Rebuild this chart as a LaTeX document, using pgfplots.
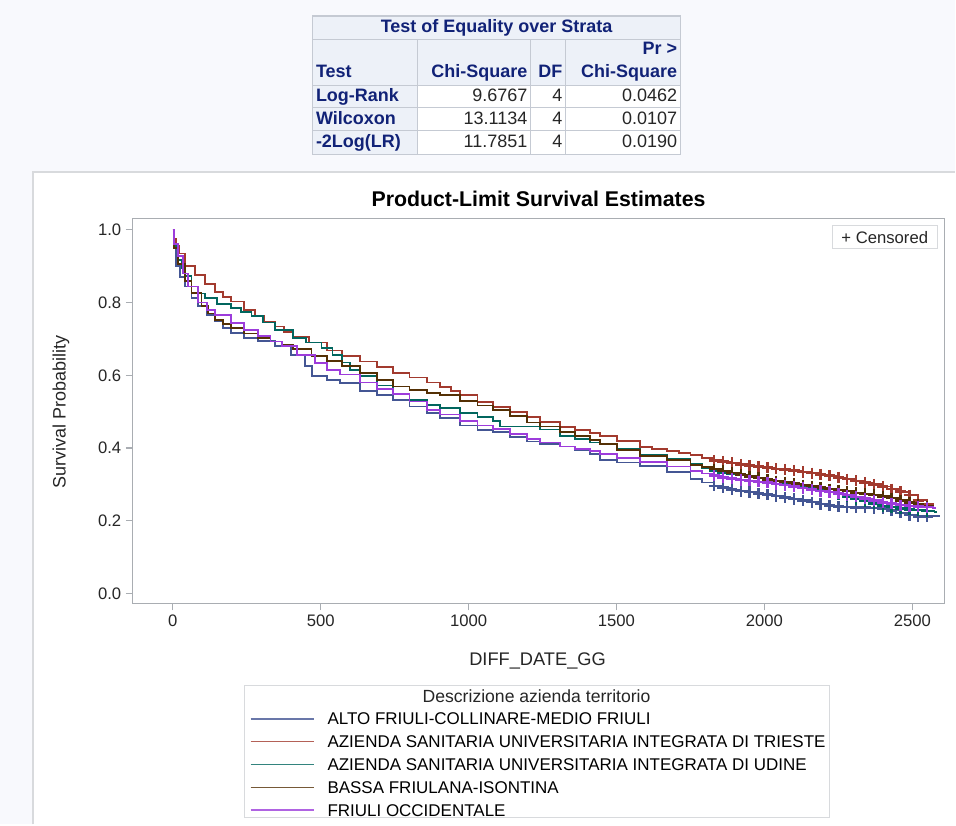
\documentclass[border=0pt]{standalone}
\usepackage{fontspec}
\setmainfont{Liberation Sans}
\usepackage{pgfplots}
\usepackage{pgfplotstable}
\pgfplotsset{compat=1.18}

\definecolor{gdblue}{HTML}{445694}
\definecolor{gdred}{HTML}{A23A2E}
\definecolor{gdteal}{HTML}{01665E}
\definecolor{gdbrown}{HTML}{543005}
\definecolor{gdpurple}{HTML}{9D3CDB}
\definecolor{pagebg}{HTML}{F8F9FD}
\definecolor{framegray}{HTML}{D8DADD}
\definecolor{axisgray}{HTML}{A9ADB2}
\definecolor{tabbg}{HTML}{EDF1F8}
\definecolor{tabgrid}{HTML}{C5CAD3}
\definecolor{tabtext}{HTML}{112277}

% Kaplan-Meier estimates (days, survival)
\pgfplotstableread{
x y
0 1.000
3 0.950
12 0.900
25 0.870
41 0.844
63 0.812
86 0.790
115 0.765
142 0.748
170 0.730
198 0.716
240 0.703
289 0.694
345 0.680
400 0.655
447 0.625
470 0.598
520 0.588
565 0.578
632 0.556
690 0.545
745 0.533
800 0.514
858 0.497
903 0.482
970 0.462
1030 0.450
1083 0.445
1140 0.430
1197 0.418
1242 0.412
1310 0.404
1360 0.393
1411 0.384
1445 0.368
1502 0.360
1580 0.350
1670 0.335
1750 0.315
1790 0.305
1830 0.296
1860 0.291
1890 0.286
1920 0.282
1950 0.279
1980 0.275
2010 0.272
2040 0.268
2070 0.264
2100 0.260
2130 0.256
2160 0.251
2190 0.246
2220 0.242
2250 0.239
2280 0.238
2310 0.236
2340 0.236
2370 0.235
2400 0.234
2430 0.228
2460 0.222
2490 0.216
2520 0.212
2550 0.212
2580 0.212
2595 0.212
}\alto

\pgfplotstableread{
x y
0 1.000
3 0.975
10 0.955
20 0.935
41 0.900
74 0.876
110 0.850
142 0.830
170 0.815
198 0.803
240 0.780
277 0.762
310 0.748
345 0.734
375 0.718
406 0.705
460 0.690
520 0.668
571 0.652
632 0.638
690 0.622
745 0.607
800 0.594
858 0.580
903 0.568
940 0.556
970 0.545
1030 0.527
1083 0.512
1140 0.498
1197 0.485
1242 0.472
1310 0.458
1360 0.449
1411 0.441
1445 0.433
1502 0.420
1580 0.403
1620 0.398
1670 0.392
1710 0.386
1750 0.380
1790 0.373
1830 0.366
1860 0.363
1890 0.359
1920 0.355
1950 0.352
1980 0.349
2010 0.346
2040 0.343
2070 0.341
2100 0.338
2130 0.334
2160 0.331
2190 0.327
2220 0.324
2250 0.319
2280 0.314
2310 0.310
2340 0.305
2370 0.300
2400 0.294
2430 0.287
2460 0.280
2490 0.270
2520 0.256
2550 0.245
2571 0.236
2580 0.236
}\trieste

\pgfplotstableread{
x y
0 1.000
5 0.955
18 0.918
30 0.895
41 0.872
63 0.844
85 0.825
108 0.812
150 0.797
198 0.785
230 0.775
266 0.762
305 0.745
345 0.725
406 0.703
450 0.690
503 0.675
540 0.655
571 0.635
600 0.615
632 0.598
690 0.572
745 0.549
800 0.533
858 0.519
903 0.510
970 0.497
1030 0.485
1083 0.474
1106 0.459
1208 0.459
1242 0.451
1310 0.433
1360 0.424
1411 0.415
1445 0.410
1502 0.398
1580 0.382
1670 0.370
1750 0.355
1790 0.346
1830 0.338
1860 0.333
1890 0.329
1920 0.325
1950 0.321
1980 0.317
2010 0.313
2040 0.309
2070 0.304
2100 0.300
2130 0.295
2160 0.290
2190 0.284
2220 0.279
2250 0.273
2280 0.267
2310 0.260
2340 0.254
2370 0.247
2400 0.240
2430 0.237
2460 0.234
2490 0.231
2520 0.229
2550 0.227
2575 0.225
2585 0.225
}\udine

\pgfplotstableread{
x y
0 1.000
5 0.950
18 0.905
40 0.860
63 0.826
97 0.790
120 0.770
142 0.753
170 0.740
198 0.730
240 0.715
289 0.702
330 0.693
368 0.684
406 0.672
469 0.652
520 0.640
571 0.625
632 0.607
690 0.588
745 0.569
800 0.560
858 0.552
903 0.545
970 0.530
1030 0.517
1083 0.505
1140 0.488
1197 0.470
1242 0.459
1310 0.444
1360 0.433
1411 0.423
1445 0.412
1502 0.395
1580 0.378
1670 0.366
1750 0.354
1790 0.348
1830 0.342
1860 0.337
1890 0.332
1920 0.327
1950 0.322
1980 0.318
2010 0.313
2040 0.309
2070 0.306
2100 0.302
2130 0.298
2160 0.295
2190 0.291
2220 0.287
2250 0.284
2280 0.281
2310 0.277
2340 0.274
2370 0.271
2400 0.267
2430 0.262
2460 0.256
2490 0.250
2520 0.245
2550 0.240
2571 0.236
2580 0.236
}\bassa

\pgfplotstableread{
x y
0 1.000
3 0.960
18 0.927
35 0.880
52 0.844
86 0.800
115 0.780
142 0.766
198 0.744
240 0.725
289 0.707
330 0.693
368 0.680
420 0.655
480 0.634
520 0.615
565 0.602
632 0.580
690 0.562
745 0.548
800 0.528
858 0.505
903 0.492
970 0.474
1030 0.462
1083 0.452
1140 0.438
1197 0.425
1242 0.415
1310 0.404
1360 0.398
1411 0.391
1445 0.383
1502 0.373
1580 0.362
1670 0.349
1750 0.336
1790 0.330
1830 0.324
1860 0.319
1890 0.316
1920 0.312
1950 0.310
1980 0.307
2010 0.305
2040 0.301
2070 0.298
2100 0.294
2130 0.290
2160 0.286
2190 0.282
2220 0.279
2250 0.275
2280 0.270
2310 0.266
2340 0.261
2370 0.256
2400 0.250
2430 0.247
2460 0.243
2490 0.240
2520 0.239
2550 0.237
2571 0.236
2580 0.236
}\occidentale

\newcommand{\tabfont}{\fontsize{13.5}{16}\selectfont}

\begin{document}
\begin{tikzpicture}[x=0.75pt,y=0.75pt]
% page and chart frame
\fill[pagebg] (0,0) rectangle (956,825);
\fill[white] (33,0) rectangle (956,653);
\draw[framegray, line width=1.2pt] (33,0) -- (33,653) -- (956,653);

% ---- Test of Equality over Strata ----
\fill[tabbg] (313,739) rectangle (681,809);
\fill[tabbg] (313,670) rectangle (418,739);
\fill[white] (418,670) rectangle (681,739);
\draw[tabgrid, line width=0.8pt] (313,670) rectangle (681,809);
\foreach \yy in {785,739,717,694} \draw[tabgrid, line width=0.8pt] (313,\yy) -- (681,\yy);
\foreach \xx in {418,531,566} \draw[tabgrid, line width=0.8pt] (\xx,670) -- (\xx,785);
\begin{scope}[every node/.style={inner sep=0pt, font=\tabfont\bfseries, text=tabtext}]
\node at (497,797) {Test of Equality over Strata};
\node[anchor=base west] at (316,747) {Test};
\node[anchor=base east] at (528,747) {Chi-Square};
\node[anchor=base east] at (563,747) {DF};
\node[anchor=base east] at (678,770) {Pr >};
\node[anchor=base east] at (678,747) {Chi-Square};
\node[anchor=base west] at (316,723) {Log-Rank};
\node[anchor=base west] at (316,700) {Wilcoxon};
\node[anchor=base west] at (316,677) {-2Log(LR)};
\end{scope}
\begin{scope}[every node/.style={inner sep=0pt, font=\tabfont, text=black!85}]
\node[anchor=base east] at (528,723) {9.6767};
\node[anchor=base east] at (563,723) {4};
\node[anchor=base east] at (678,723) {0.0462};
\node[anchor=base east] at (528,700) {13.1134};
\node[anchor=base east] at (563,700) {4};
\node[anchor=base east] at (678,700) {0.0107};
\node[anchor=base east] at (528,677) {11.7851};
\node[anchor=base east] at (563,677) {4};
\node[anchor=base east] at (678,677) {0.0190};
\end{scope}

% ---- survival plot ----
\begin{axis}[
  at={(99.75pt,165.75pt)}, anchor=south west,
  scale only axis, width=609pt, height=288.75pt,
  xmin=-135, xmax=2608, ymin=-0.0275, ymax=1.0302,
  xtick={0,500,1000,1500,2000,2500},
  ytick={0,0.2,0.4,0.6,0.8,1.0},
  /pgf/number format/assume math mode=true,
  scaled x ticks=false,
  xticklabel style={/pgf/number format/1000 sep={}},
  yticklabel style={/pgf/number format/.cd, fixed, fixed zerofill, precision=1},
  tick align=outside, xtick pos=bottom, ytick pos=left,
  major tick length=5.25pt,
  axis line style={axisgray, line width=0.9pt},
  tick style={axisgray, line width=0.9pt},
  ticklabel style={font=\fontsize{12.5}{14}\selectfont, text=black!85},
  cens/.style={only marks, mark=+, mark size=4.2pt, line width=1.8pt,
    restrict x to domain=1820:2555},
  legend style={at={(rel axis cs:0.1441,-0.282)}, anchor=north west,
    draw=none, fill=none, inner sep=0pt, row sep=4.6pt,
    font=\fontsize{12.75}{15}\selectfont,
    nodes={inner sep=0pt, text height=9.5pt, text depth=3pt}},
  legend cell align=left,
  legend image code/.code={\draw[#1, line width=0.9pt, opacity=0.8] (0pt,1.2pt) -- (47.25pt,1.2pt); \path (57pt,0pt);},
]
\addplot[gdblue, const plot, line width=1.35pt] table {\alto};
\addlegendentry{ALTO FRIULI-COLLINARE-MEDIO FRIULI}
\addplot[gdred, const plot, line width=1.35pt] table {\trieste};
\addlegendentry{AZIENDA SANITARIA UNIVERSITARIA INTEGRATA DI TRIESTE}
\addplot[gdteal, const plot, line width=1.35pt] table {\udine};
\addlegendentry{AZIENDA SANITARIA UNIVERSITARIA INTEGRATA DI UDINE}
\addplot[gdbrown, const plot, line width=1.35pt] table {\bassa};
\addlegendentry{BASSA FRIULANA-ISONTINA}
\addplot[gdpurple, const plot, line width=1.35pt] table {\occidentale};
\addlegendentry{FRIULI OCCIDENTALE}
% censored observations
\addplot[gdblue, cens, forget plot] table {\alto};
\addplot[gdteal, cens, forget plot] table {\udine};
\addplot[gdred, cens, forget plot] table {\trieste};
\addplot[gdbrown, cens, forget plot] table {\bassa};
\addplot[gdpurple, cens, forget plot] table {\occidentale};
\end{axis}

% titles, labels, inset and legend frame
\node[font=\fontsize{16}{19}\selectfont\bfseries] at (539,626) {Product-Limit Survival Estimates};
\node[font=\fontsize{13.5}{16}\selectfont, text=black!85, rotate=90] at (61,413) {Survival Probability};
\node[font=\fontsize{13.7}{16}\selectfont, text=black!85] at (538,164) {DIFF\_DATE\_GG};
\draw[framegray, line width=0.9pt, fill=white] (833,576) rectangle (938,599);
\node[font=\fontsize{12.5}{14}\selectfont, text=black!85] at (885.5,587.5) {+ Censored};
\draw[framegray, line width=0.9pt] (245,7) rectangle (830,139);
\node[font=\fontsize{13.2}{15}\selectfont, text=black!85] at (537,128) {Descrizione azienda territorio};
\end{tikzpicture}
\end{document}
